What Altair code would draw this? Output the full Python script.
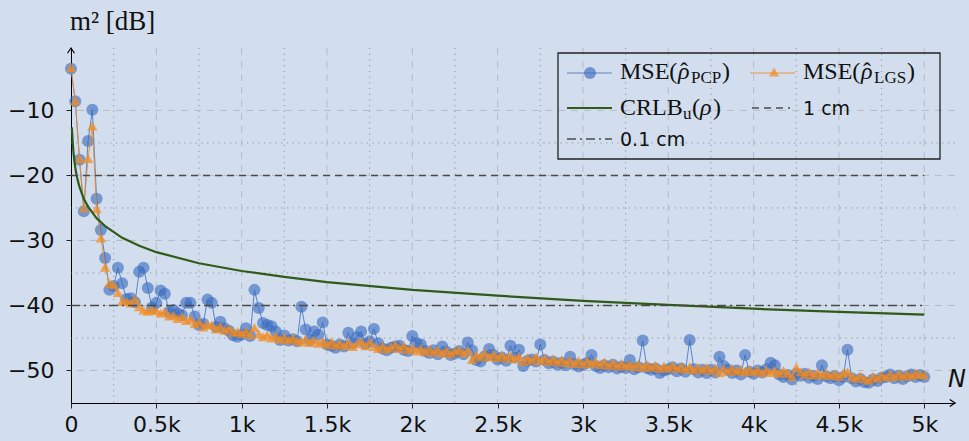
import altair as alt
import pandas as pd

# ---------------- data ----------------
N_VALUES = list(range(0, 5001, 25))

pcp = [
    -3.6, -8.6, -17.6, -25.5, -14.7, -9.9, -23.6, -28.4, -32.7, -37.6,
    -37.0, -34.2, -36.6, -39.0, -38.9, -39.5, -34.8, -34.2, -37.3, -40.3,
    -39.6, -37.7, -38.2, -41.0, -40.7, -41.2, -41.5, -39.6, -39.6, -41.7,
    -43.0, -42.8, -39.1, -39.6, -43.3, -42.5, -43.5, -43.9, -44.6, -44.8,
    -44.5, -43.5, -44.7, -37.6, -40.4, -42.7, -43.0, -43.2, -44.0, -45.3,
    -44.6, -45.4, -45.2, -45.5, -40.2, -43.7, -45.3, -44.0, -44.5, -42.6,
    -46.0, -46.2, -46.5, -46.0, -46.3, -44.2, -45.8, -44.9, -44.0, -45.9,
    -45.5, -43.6, -45.8, -46.6, -46.9, -46.5, -46.3, -46.2, -46.8, -47.0,
    -44.7, -45.8, -46.0, -47.0, -47.3, -46.9, -47.5, -46.3, -47.1, -47.6,
    -47.4, -47.0, -47.5, -45.7, -46.9, -48.4, -48.6, -47.8, -46.7, -47.6,
    -48.3, -48.0, -48.5, -46.2, -48.0, -46.8, -49.3, -48.5, -48.3, -48.6,
    -46.0, -48.4, -48.9, -48.6, -49.1, -48.8, -49.2, -47.9, -49.0, -49.4,
    -49.1, -48.8, -47.6, -49.3, -49.6, -49.2, -49.5, -49.1, -49.7, -49.4,
    -49.6, -48.4, -49.8, -49.5, -45.4, -49.6, -49.9, -49.7, -50.4, -50.0,
    -49.8, -49.5, -50.1, -49.7, -50.2, -45.3, -49.8, -50.3, -49.9, -50.4,
    -49.9, -50.3, -47.9, -49.3, -49.9, -50.4, -50.0, -50.6, -47.6, -50.2,
    -50.5, -50.0, -50.3, -49.8, -48.8, -49.2, -50.6, -51.0, -50.7, -51.4,
    -50.5, -50.8, -50.5, -51.1, -50.8, -51.3, -49.2, -50.9, -51.2, -50.9,
    -51.5, -51.0, -46.8, -51.2, -51.7, -51.3, -51.8, -51.9, -51.4, -51.6,
    -51.1, -51.0, -50.6, -51.2, -50.8, -51.3, -50.9, -50.6, -51.0, -50.7,
    -51.0,
]

lgs = [
    -3.4, -8.5, -17.4, -25.0, -17.4, -12.4, -25.1, -29.6, -34.1, -36.6,
    -36.8, -38.0, -39.4, -39.3, -39.6, -39.0, -40.2, -40.7, -40.9, -40.6,
    -40.8, -41.2, -40.9, -41.6, -41.5, -42.0, -41.7, -42.3, -42.1, -42.8,
    -42.5, -43.3, -42.9, -43.0, -43.6, -43.2, -43.8, -43.5, -44.1, -44.0,
    -44.3, -44.0, -44.5, -43.4, -44.4, -44.8, -44.5, -45.0, -44.7, -45.2,
    -44.9, -45.3, -45.0, -45.4, -45.6, -45.2, -45.7, -45.3, -45.8, -45.5,
    -46.0, -45.6, -46.1, -45.8, -46.2, -45.7, -46.3, -45.9, -45.5, -46.2,
    -45.6, -46.3, -46.6, -46.2, -46.7, -46.4, -46.0, -46.6, -46.2, -46.8,
    -46.5, -47.0, -46.6, -47.1, -46.7, -47.2, -46.8, -47.3, -46.9, -47.4,
    -47.0, -46.8, -47.3, -46.9, -48.3, -47.6, -47.9, -47.3, -47.9, -47.5,
    -48.0, -47.6, -48.1, -47.7, -48.2, -47.8, -48.6, -48.0, -48.4, -47.9,
    -48.5, -48.1, -48.6, -48.2, -48.7, -48.3, -48.8, -48.4, -48.9, -48.5,
    -49.0, -48.5, -48.9, -48.6, -49.1, -48.7, -49.2, -48.8, -49.3, -48.9,
    -49.3, -49.0, -49.4, -49.0, -49.5, -49.1, -49.5, -49.2, -49.7, -49.3,
    -49.6, -49.2, -49.7, -49.4, -49.8, -49.4, -49.9, -49.5, -49.9, -49.5,
    -50.0, -49.6, -50.3, -49.7, -50.1, -49.7, -50.1, -49.8, -50.2, -49.8,
    -50.2, -49.9, -50.3, -49.9, -50.3, -50.0, -50.4, -50.0, -50.4, -50.9,
    -49.5, -50.2, -50.6, -50.2, -50.7, -50.3, -50.7, -50.4, -50.8, -50.5,
    -50.9, -50.4, -50.2, -50.9, -51.2, -50.8, -51.3, -51.5, -50.9, -51.2,
    -50.7, -51.0, -50.6, -50.9, -50.5, -50.9, -50.5, -50.8, -50.4, -50.6,
    -50.7,
]

crlb_n = [5, 10, 15, 20, 30, 40, 50, 75, 100, 150, 200, 300, 400, 500, 750,
          1000, 1250, 1500, 2000, 2500, 3000, 3500, 4000, 4500, 5000]
crlb_db = [-12.6, -14.9, -16.6, -17.8, -19.6, -20.8, -21.8, -23.6, -24.8, -26.6,
           -27.8, -29.6, -30.8, -31.8, -33.5, -34.7, -35.6, -36.4, -37.6, -38.5,
           -39.3, -39.9, -40.5, -41.0, -41.4]

ref_1cm_db = -20
ref_01cm_db = -40
ref_n_range = [0, 5000]

x_major = [500, 1000, 1500, 2000, 2500, 3000, 3500, 4000, 4500, 5000]
x_minor = [250, 750, 1250, 1750, 2250, 2750, 3250, 3750, 4250, 4750]
x_labels_at = [0, 500, 1000, 1500, 2000, 2500, 3000, 3500, 4000, 4500, 5000]
y_major = [-50, -40, -30, -20, -10]
y_minor = [-45, -35, -25, -15]

# ---------------- layout / style ----------------
W, H = 884, 355
X_MAX = 5180
Y_MIN, Y_MAX = -55, -0.4
BG = "#d2deed"
BLUE = "#3a6cc0"
ORANGE = "#f28a20"
GREEN = "#2f5a17"
REF = "#4a4a4a"
TXT = "#111111"

xs = alt.Scale(domain=[0, X_MAX], nice=False, zero=False)
ys = alt.Scale(domain=[Y_MIN, Y_MAX], nice=False, zero=False)

# identical axis definitions are given to every layer so that they merge cleanly
x_axis = alt.Axis(values=x_labels_at, title=None, grid=False,
                  labelExpr="datum.value == 0 ? '0' : (datum.value / 1000) + 'k'",
                  domainColor="#000", domainWidth=1, tickColor="#222", tickSize=5,
                  labelFont="DejaVu Sans", labelFontSize=22, labelColor=TXT,
                  labelPadding=6, labelFlush=False, labelOverlap=False)
y_axis = alt.Axis(values=y_major, title=None, grid=False,
                  domainColor="#000", domainWidth=1, tickColor="#222", tickSize=5,
                  labelFont="DejaVu Sans", labelFontSize=22, labelColor=TXT,
                  labelPadding=12, labelOverlap=False)


def X(field):
    return alt.X(field, scale=xs, axis=x_axis)


def Y(field):
    return alt.Y(field, scale=ys, axis=y_axis)


df = pd.DataFrame({"N": N_VALUES, "pcp": pcp, "lgs": lgs})
df_crlb = pd.DataFrame({"N": crlb_n, "db": crlb_db})
ONE = pd.DataFrame({"k": [0]})


def vrules(vals, dash, color):
    return alt.Chart(pd.DataFrame({"v": vals})).mark_rule(
        color=color, strokeDash=dash, strokeWidth=1).encode(x=X("v:Q"))


def hrules(vals, dash, color):
    return alt.Chart(pd.DataFrame({"v": vals})).mark_rule(
        color=color, strokeDash=dash, strokeWidth=1).encode(y=Y("v:Q"))


grid = [
    vrules(x_minor, [1.2, 4.5], "#8d949e"),
    hrules(y_minor, [1.2, 4.5], "#8d949e"),
    vrules(x_major, [7, 6], "#b5bcc6"),
    hrules(y_major, [7, 6], "#b5bcc6"),
]

blue_line = alt.Chart(df).mark_line(color=BLUE, strokeWidth=1, opacity=0.8).encode(
    x=X("N:Q"), y=Y("pcp:Q"))
blue_pts = alt.Chart(df).mark_circle(color=BLUE, size=144, opacity=0.62).encode(
    x=X("N:Q"), y=Y("pcp:Q"))
orange_line = alt.Chart(df).mark_line(color=ORANGE, strokeWidth=1, opacity=0.85).encode(
    x=X("N:Q"), y=Y("lgs:Q"))
orange_pts = alt.Chart(df).mark_point(shape="triangle-up", filled=True, color=ORANGE,
                                      size=110, opacity=0.72).encode(
    x=X("N:Q"), y=Y("lgs:Q"))
crlb_line = alt.Chart(df_crlb).mark_line(color=GREEN, strokeWidth=2.2).encode(
    x=X("N:Q"), y=Y("db:Q"))


def ref_line(level, dash):
    d = pd.DataFrame({"x0": [ref_n_range[0]], "x1": [ref_n_range[1]], "y": [level]})
    return alt.Chart(d).mark_rule(color=REF, strokeDash=dash, strokeWidth=1.4).encode(
        x=X("x0:Q"), x2="x1:Q", y=Y("y:Q"))


ref1 = ref_line(ref_1cm_db, [7, 5])
ref2 = ref_line(ref_01cm_db, [9, 4, 2, 4])

# axis arrow heads (at the ends of the axis lines)
arrow_y = alt.Chart(ONE).mark_point(
    shape="M-1,1.5L0,0L1,1.5", size=49, color="#000", strokeWidth=1.2, opacity=1).encode(
    x=alt.value(0), y=alt.value(0))
arrow_x = alt.Chart(ONE).mark_point(
    shape="M-1.5,-1L0,0L-1.5,1", size=49, color="#000", strokeWidth=1.2, opacity=1).encode(
    x=alt.value(W), y=alt.value(H))


# ---------------- titles and legend (pixel positions) ----------------
def ptext(t, x, y, font, size, style="normal", align="left"):
    return alt.Chart(pd.DataFrame({"t": [t]})).mark_text(
        font=font, fontSize=size, fontStyle=style, align=align,
        baseline="alphabetic", color=TXT
    ).encode(x=alt.value(x), y=alt.value(y), text="t:N")


SERIF = "Liberation Serif"
MAIN, SUB = 24, 17
texts = [
    # row 1, entry 1
    ptext("MSE(", 549, 31, SERIF, MAIN),
    ptext("ρ", 607, 31, SERIF, MAIN, "italic"),
    ptext("ˆ", 609, 31, SERIF, MAIN),
    ptext("PCP", 620, 35, SERIF, SUB),
    ptext(")", 651, 31, SERIF, MAIN),
    # row 1, entry 2
    ptext("MSE(", 732, 31, SERIF, MAIN),
    ptext("ρ", 790, 31, SERIF, MAIN, "italic"),
    ptext("ˆ", 792, 31, SERIF, MAIN),
    ptext("LGS", 803, 35, SERIF, SUB),
    ptext(")", 836, 31, SERIF, MAIN),
    # row 2
    ptext("CRLB", 549, 67, SERIF, MAIN),
    ptext("u", 612, 71, SERIF, SUB),
    ptext("(", 621, 67, SERIF, MAIN),
    ptext("ρ", 629, 67, SERIF, MAIN, "italic"),
    ptext(")", 642, 67, SERIF, MAIN),
    ptext("1 cm", 732, 67, "DejaVu Sans", 19),
    # row 3
    ptext("0.1 cm", 549, 98, "DejaVu Sans", 19),
    # axis titles
    ptext("m² [dB]", -1, -18, SERIF, 27),
    ptext("N", 886, 339, "DejaVu Sans", 24, "italic", "center"),
]

legend_box = alt.Chart(ONE).mark_rect(
    fill="transparent", stroke="#222", strokeWidth=1.3).encode(
    x=alt.value(487), x2=alt.value(869), y=alt.value(5), y2=alt.value(111))


def leg_line(x0, x1, y, color, width, dash=None, opacity=1.0):
    kw = dict(color=color, strokeWidth=width, opacity=opacity)
    if dash is not None:
        kw["strokeDash"] = dash
    return alt.Chart(ONE).mark_rule(**kw).encode(
        x=alt.value(x0), x2=alt.value(x1), y=alt.value(y))


leg = [
    leg_line(496, 541, 25, BLUE, 1, opacity=0.8),
    leg_line(679, 724, 25, ORANGE, 1, opacity=0.85),
    leg_line(496, 541, 60, GREEN, 2.2),
    leg_line(681, 719, 60, REF, 1.4, [7, 5]),
    leg_line(496, 541, 91, REF, 1.4, [9, 4, 2, 4]),
    alt.Chart(ONE).mark_circle(color=BLUE, size=144, opacity=0.65).encode(
        x=alt.value(519), y=alt.value(25)),
    alt.Chart(ONE).mark_point(shape="triangle-up", filled=True, color=ORANGE,
                              size=110, opacity=0.72).encode(
        x=alt.value(703), y=alt.value(24)),
]

chart = alt.layer(
    *grid, blue_line, blue_pts, orange_line, orange_pts, crlb_line,
    ref1, ref2, arrow_y, arrow_x, legend_box, *leg, *texts,
).properties(
    width=W, height=H,
    padding={"left": 71, "top": 48, "right": 14, "bottom": 38},
    autosize=alt.AutoSizeParams(type="none"),
).configure(background=BG).configure_view(strokeWidth=0)

chart.save("out.html", embed_options={"renderer": "svg", "actions": False})
